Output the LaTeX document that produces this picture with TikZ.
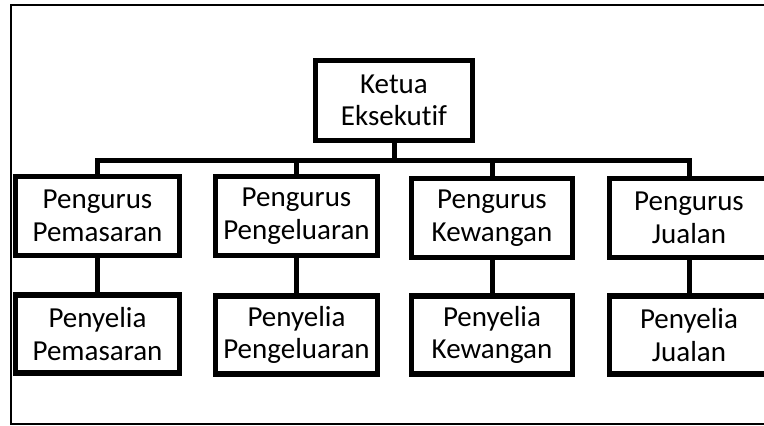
\documentclass[tikz,border=0pt]{standalone}
\usepackage{fontspec}
\setmainfont{Carlito}[Ligatures=NoCommon]
\begin{document}
\begin{tikzpicture}[x=1pt,y=-1pt,
  orgbox/.style={draw, line width=5.5pt, rectangle, inner sep=0pt, align=center,
    font=\fontsize{29}{32.5}\selectfont, minimum height=79pt},
  link/.style={line width=5pt}]
\useasboundingbox (0,0) rectangle (764,426);
\clip (0,0) rectangle (764,426);
\draw[line width=2.5pt] (11,5) rectangle (790,424);
\node[orgbox, minimum width=157pt, minimum height=80pt] (k) at (394,100.5) {Ketua\\Eksekutif};
\node[orgbox, minimum width=164pt] (p1) at (97.5,216) {Pengurus\\Pemasaran};
\node[orgbox, minimum width=162pt] (p2) at (296.5,216) {Pengurus\\Pengeluaran};
\node[orgbox, minimum width=161pt] (p3) at (492,218) {Pengurus\\Kewangan};
\node[orgbox, minimum width=159pt] (p4) at (689,218) {Pengurus\\Jualan};
\node[orgbox, minimum width=164pt, minimum height=78pt] (s1) at (97.5,334) {Penyelia\\Pemasaran};
\node[orgbox, minimum width=162pt, minimum height=78pt] (s2) at (296.5,335) {Penyelia\\Pengeluaran};
\node[orgbox, minimum width=161pt, minimum height=78pt] (s3) at (492,335) {Penyelia\\Kewangan};
\node[orgbox, minimum width=159pt, minimum height=78pt] (s4) at (689,335) {Penyelia\\Jualan};
\coordinate (bus) at (394,160);
\draw[link] (k.south) -- (k.south |- bus);
\draw[link] (p1.north) -- (p1.north |- bus) -- (p4.north |- bus) -- (p4.north);
\draw[link] (p2.north) -- (p2.north |- bus);
\draw[link] (p3.north) -- (p3.north |- bus);
\draw[link] (p1) -- (s1);
\draw[link] (p2) -- (s2);
\draw[link] (p3) -- (s3);
\draw[link] (p4) -- (s4);
\end{tikzpicture}
\end{document}
